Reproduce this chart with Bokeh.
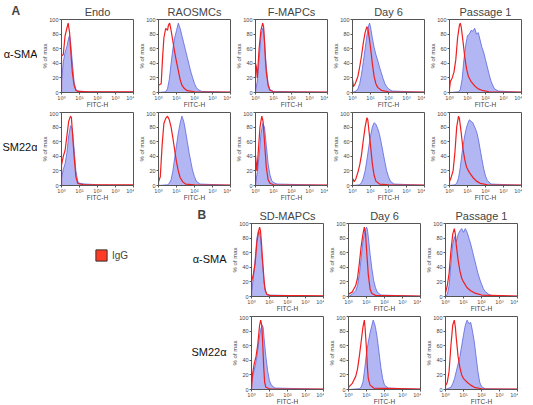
from bokeh.plotting import figure
from bokeh.layouts import row, column
from bokeh.models import Range1d, FixedTicker, Legend, LegendItem
from bokeh.core.properties import value
from bokeh.embed import file_html
from bokeh.resources import INLINE

# ---------------- data (log10 of FITC-H intensity, % of max) ----------------
decades = [0, 1, 2, 3, 4]
decade_labels = ["10\u2070", "10\u00b9", "10\u00b2", "10\u00b3", "10\u2074"]
pct_ticks = [0, 20, 40, 60, 80, 100]

cols_A = ["Endo", "RAOSMCs", "F-MAPCs", "Day 6", "Passage 1"]
cols_B = ["SD-MAPCs", "Day 6", "Passage 1"]
markers = ["\u03b1-SMA", "SM22\u03b1"]
panel_letters = ["A", "B"]
control_name = "IgG"

# Panel A, alpha-SMA row
A_endo_sma_igg = [(0, 0), (0, 50), (0.1, 52), (0.2, 78), (0.3, 88), (0.37, 95), (0.45, 82), (0.5, 62), (0.6, 28), (0.7, 10), (0.8, 3), (0.9, 1.5), (1.5, 1), (4, 1)]
A_endo_sma_ab = [(0, 15), (0.1, 42), (0.2, 55), (0.3, 63), (0.4, 75), (0.45, 78), (0.5, 70), (0.6, 42), (0.7, 14), (0.8, 4), (0.9, 2), (1.5, 1), (4, 0.5)]
A_rao_sma_igg = [(0, 0), (0, 10), (0.15, 12), (0.22, 45), (0.3, 75), (0.4, 88), (0.5, 85), (0.55, 92), (0.62, 95), (0.7, 85), (0.8, 70), (0.9, 55), (1.0, 42), (1.1, 30), (1.2, 18), (1.3, 10), (1.45, 5), (1.6, 2.5), (2, 1), (4, 0.5)]
A_rao_sma_ab = [(0, 0), (0.4, 1), (0.5, 5), (0.6, 18), (0.7, 40), (0.8, 60), (0.9, 75), (1.0, 85), (1.1, 95), (1.2, 88), (1.3, 78), (1.4, 68), (1.5, 58), (1.6, 48), (1.7, 38), (1.8, 28), (1.9, 20), (2.0, 12), (2.1, 7), (2.2, 4), (2.4, 1.5), (4, 0.3)]
A_fmapc_sma_igg = [(0, 0), (0, 40), (0.05, 35), (0.1, 20), (0.15, 40), (0.2, 60), (0.3, 85), (0.4, 95), (0.45, 90), (0.5, 70), (0.55, 45), (0.6, 28), (0.7, 10), (0.8, 3), (1.0, 1), (4, 0.5)]
A_fmapc_sma_ab = [(0, 3), (0.1, 15), (0.2, 45), (0.3, 78), (0.4, 88), (0.45, 85), (0.5, 70), (0.6, 35), (0.7, 12), (0.8, 4), (1.0, 1.5), (4, 0.3)]
A_day6_sma_igg = [(0, 0), (0, 18), (0.05, 8), (0.15, 12), (0.3, 22), (0.4, 35), (0.5, 50), (0.6, 68), (0.7, 82), (0.8, 90), (0.85, 88), (0.9, 80), (1.0, 62), (1.1, 40), (1.2, 22), (1.3, 12), (1.4, 7), (1.6, 3), (2, 1), (4, 0.5)]
A_day6_sma_ab = [(0, 0), (0.2, 2), (0.3, 5), (0.4, 12), (0.5, 25), (0.6, 42), (0.7, 60), (0.8, 78), (0.9, 92), (0.95, 95), (1.0, 90), (1.1, 75), (1.2, 62), (1.3, 52), (1.4, 44), (1.5, 35), (1.6, 27), (1.7, 19), (1.8, 12), (1.9, 8), (2.0, 5), (2.2, 2), (4, 0.3)]
A_p1_sma_igg = [(0, 0), (0, 5), (0.05, 15), (0.15, 20), (0.25, 28), (0.35, 45), (0.45, 75), (0.55, 92), (0.6, 95), (0.65, 90), (0.75, 70), (0.85, 48), (0.95, 32), (1.05, 22), (1.2, 15), (1.4, 9), (1.6, 5), (1.8, 3), (2.2, 1), (4, 0.5)]
A_p1_sma_ab = [(0, 0), (0.5, 1), (0.6, 4), (0.7, 18), (0.8, 45), (0.9, 65), (1.0, 78), (1.1, 80), (1.2, 85), (1.3, 84), (1.4, 88), (1.5, 80), (1.6, 82), (1.7, 72), (1.8, 62), (1.9, 55), (2.0, 45), (2.1, 35), (2.2, 25), (2.3, 16), (2.4, 10), (2.5, 5), (2.7, 2), (4, 0.3)]

# Panel A, SM22alpha row
A_endo_sm22_igg = [(0, 0), (0, 28), (0.1, 40), (0.2, 48), (0.3, 68), (0.4, 88), (0.5, 95), (0.55, 93), (0.6, 75), (0.7, 40), (0.8, 12), (0.9, 3), (1.2, 1), (4, 1)]
A_endo_sm22_ab = [(0, 10), (0.1, 22), (0.2, 30), (0.3, 45), (0.4, 68), (0.5, 82), (0.6, 78), (0.7, 50), (0.8, 20), (0.9, 6), (1.0, 3), (1.3, 2), (1.7, 1.5), (2.2, 0.5), (4, 0.3)]
A_rao_sm22_igg = [(0, 0), (0, 5), (0.1, 12), (0.2, 55), (0.3, 85), (0.4, 92), (0.5, 95), (0.6, 90), (0.7, 80), (0.8, 65), (0.9, 48), (1.0, 32), (1.1, 20), (1.2, 11), (1.35, 5), (1.5, 2), (2, 1), (4, 0.5)]
A_rao_sm22_ab = [(0, 0), (0.5, 1), (0.6, 3), (0.7, 8), (0.8, 20), (0.9, 38), (1.0, 55), (1.1, 72), (1.2, 85), (1.3, 95), (1.4, 88), (1.5, 75), (1.6, 60), (1.7, 45), (1.8, 32), (1.9, 20), (2.0, 12), (2.1, 6), (2.3, 2), (4, 0.3)]
A_fmapc_sm22_igg = [(0, 0), (0, 42), (0.08, 20), (0.15, 45), (0.25, 80), (0.35, 95), (0.42, 88), (0.5, 60), (0.6, 25), (0.7, 8), (0.8, 3), (1.0, 1), (4, 0.5)]
A_fmapc_sm22_ab = [(0, 3), (0.1, 18), (0.2, 40), (0.3, 70), (0.4, 85), (0.5, 80), (0.6, 55), (0.7, 30), (0.8, 15), (0.9, 7), (1.0, 4), (1.2, 2), (4, 0.3)]
A_day6_sm22_igg = [(0, 0), (0, 10), (0.1, 5), (0.2, 10), (0.3, 18), (0.4, 28), (0.5, 42), (0.6, 62), (0.7, 80), (0.8, 93), (0.85, 90), (0.9, 78), (1.0, 55), (1.1, 30), (1.2, 14), (1.3, 6), (1.5, 2), (2, 1), (4, 0.5)]
A_day6_sm22_ab = [(0, 0), (0.4, 1), (0.5, 4), (0.6, 10), (0.7, 20), (0.8, 35), (0.9, 52), (1.0, 68), (1.1, 80), (1.2, 86), (1.3, 84), (1.4, 78), (1.5, 70), (1.6, 58), (1.7, 45), (1.8, 32), (1.9, 20), (2.0, 12), (2.1, 6), (2.3, 2), (4, 0.3)]
A_p1_sm22_igg = [(0, 0), (0, 5), (0.1, 12), (0.2, 20), (0.3, 45), (0.4, 80), (0.5, 95), (0.55, 92), (0.65, 72), (0.75, 50), (0.85, 35), (0.95, 25), (1.1, 18), (1.3, 11), (1.5, 6), (1.7, 3), (2.1, 1), (4, 0.5)]
A_p1_sm22_ab = [(0, 0), (0.3, 1), (0.4, 3), (0.5, 10), (0.6, 25), (0.7, 45), (0.8, 62), (0.9, 75), (1.0, 84), (1.1, 90), (1.2, 88), (1.3, 86), (1.4, 80), (1.5, 74), (1.6, 64), (1.7, 50), (1.8, 36), (1.9, 23), (2.0, 13), (2.1, 7), (2.3, 2), (4, 0.3)]

# Panel B, alpha-SMA row
B_sd_sma_igg = [(0, 0), (0, 20), (0.1, 30), (0.2, 45), (0.3, 75), (0.4, 90), (0.45, 95), (0.5, 90), (0.55, 75), (0.6, 55), (0.7, 22), (0.75, 10), (0.85, 3), (1.0, 1.5), (4, 0.8)]
B_sd_sma_ab = [(0, 5), (0.1, 25), (0.2, 50), (0.3, 80), (0.38, 90), (0.45, 88), (0.5, 80), (0.6, 50), (0.7, 18), (0.8, 5), (0.9, 2), (4, 0.3)]
B_day6_sma_igg = [(0, 0), (0, 3), (0.2, 6), (0.4, 15), (0.5, 25), (0.6, 45), (0.7, 68), (0.8, 85), (0.88, 95), (0.95, 85), (1.0, 65), (1.1, 30), (1.2, 10), (1.3, 4), (1.5, 1.5), (4, 0.5)]
B_day6_sma_ab = [(0, 0), (0.2, 3), (0.4, 8), (0.5, 15), (0.6, 30), (0.7, 52), (0.8, 75), (0.9, 88), (1.0, 95), (1.05, 92), (1.1, 82), (1.2, 58), (1.3, 38), (1.4, 22), (1.5, 12), (1.6, 6), (1.8, 2), (4, 0.3)]
B_p1_sma_igg = [(0, 0), (0, 5), (0.1, 15), (0.2, 32), (0.3, 62), (0.4, 85), (0.49, 93), (0.55, 85), (0.6, 70), (0.7, 50), (0.8, 35), (0.9, 25), (1.0, 20), (1.2, 12), (1.4, 8), (1.6, 5), (2.0, 2), (4, 0.5)]
B_p1_sma_ab = [(0, 0), (0.1, 3), (0.2, 15), (0.3, 45), (0.4, 72), (0.5, 82), (0.6, 75), (0.7, 85), (0.8, 90), (0.9, 93), (1.0, 88), (1.1, 93), (1.2, 88), (1.3, 80), (1.4, 72), (1.5, 62), (1.6, 52), (1.7, 42), (1.8, 32), (1.9, 24), (2.0, 17), (2.1, 11), (2.2, 7), (2.4, 3), (2.6, 1), (4, 0.3)]

# Panel B, SM22alpha row
B_sd_sm22_igg = [(0, 0), (0.05, 20), (0.15, 35), (0.25, 45), (0.35, 62), (0.45, 88), (0.51, 95), (0.57, 88), (0.62, 65), (0.68, 30), (0.73, 10), (0.8, 3), (1.0, 1), (4, 0.5)]
B_sd_sm22_ab = [(0, 8), (0.1, 22), (0.2, 32), (0.3, 45), (0.4, 65), (0.5, 82), (0.6, 88), (0.65, 85), (0.7, 70), (0.8, 45), (0.9, 25), (1.0, 12), (1.1, 6), (1.3, 2), (4, 0.3)]
B_day6_sm22_igg = [(0, 0), (0, 3), (0.2, 8), (0.4, 18), (0.5, 28), (0.6, 45), (0.7, 65), (0.8, 85), (0.88, 95), (0.92, 85), (1.0, 55), (1.05, 30), (1.1, 15), (1.2, 6), (1.4, 2), (4, 0.5)]
B_day6_sm22_ab = [(0, 0), (0.6, 1), (0.7, 3), (0.8, 10), (0.9, 28), (1.0, 50), (1.1, 65), (1.2, 78), (1.3, 88), (1.37, 95), (1.45, 90), (1.5, 85), (1.6, 70), (1.7, 50), (1.8, 30), (1.9, 15), (2.0, 6), (2.2, 2), (4, 0.3)]
B_p1_sm22_igg = [(0, 0), (0, 5), (0.1, 10), (0.2, 25), (0.3, 60), (0.4, 88), (0.49, 95), (0.55, 85), (0.6, 70), (0.7, 45), (0.8, 30), (0.9, 20), (1.0, 15), (1.2, 10), (1.4, 6), (1.6, 3), (2.0, 1), (4, 0.5)]
B_p1_sm22_ab = [(0, 0), (0.3, 3), (0.4, 8), (0.5, 15), (0.6, 25), (0.7, 35), (0.8, 45), (0.9, 60), (1.0, 75), (1.1, 88), (1.2, 95), (1.3, 90), (1.4, 92), (1.5, 80), (1.6, 65), (1.7, 45), (1.8, 25), (1.9, 10), (2.0, 4), (2.2, 1), (4, 0.3)]

# ---------------- styling ----------------
FONT = "Liberation Sans"
TICK_FONT = "DejaVu Sans"
BLUE_FILL = "#b2b6f3"
BLUE_LINE = "#5a66e0"
RED = "#f01e1e"
RED_FILL = "#ff3b24"
AX = "#555555"

FW = 72      # frame width
FH = 73      # frame height
L = 24       # left border (y axis)
R = 1
BOT = 19     # bottom border (x axis)


def panel(title, igg, ab, top, bot=BOT):
    p = figure(frame_width=FW, frame_height=FH,
               x_range=Range1d(0, 4), y_range=Range1d(0, 100),
               output_backend="svg", toolbar_location=None,
               min_border_left=L, min_border_right=R,
               min_border_top=top, min_border_bottom=bot,
               title=title)
    ax_x, ax_y = zip(*ab)
    p.varea(x=list(ax_x), y1=0, y2=list(ax_y), fill_color=BLUE_FILL, fill_alpha=1)
    p.line(list(ax_x), list(ax_y), line_color=BLUE_LINE, line_width=0.8)
    ix, iy = zip(*igg)
    p.line(list(ix), list(iy), line_color=RED, line_width=1.2)

    p.xaxis.ticker = FixedTicker(ticks=decades)
    p.xaxis.major_label_overrides = dict(zip(decades, decade_labels))
    p.yaxis.ticker = FixedTicker(ticks=pct_ticks)
    p.xaxis.axis_label = "FITC-H"
    p.yaxis.axis_label = "% of max"
    for ax in (p.xaxis[0], p.yaxis[0]):
        ax.major_label_text_font = FONT
        ax.major_label_text_font_size = "5.5px"
        ax.axis_label_text_font = FONT
        ax.axis_label_text_font_style = "normal"
        ax.axis_label_text_font_size = "6.5px"
        ax.major_tick_in = 0
        ax.major_tick_out = 2
        ax.minor_tick_line_color = None
        ax.axis_line_color = AX
        ax.major_tick_line_color = AX
    xa, ya = p.xaxis[0], p.yaxis[0]
    xa.major_label_text_font = TICK_FONT
    xa.major_label_text_font_size = "5px"
    xa.major_label_standoff = 0
    xa.axis_label_standoff = -3
    ya.major_label_standoff = 1
    ya.axis_label_standoff = -2
    ya.axis_label_text_font_size = "6px"
    p.xgrid.visible = False
    p.ygrid.visible = False
    p.outline_line_color = AX
    p.outline_line_alpha = 1
    if title:
        p.title.text_font = FONT
        p.title.text_font_size = "11px"
        p.title.text_font_style = "normal"
        p.title.align = "center"
        p.title.standoff = 4
    return p


def label_fig(w, top, letter=None, letter_x=0):
    # frame is aligned with the panel frames of the same row; y counts pixels down from frame top
    f = figure(frame_width=w, frame_height=FH, x_range=Range1d(0, w), y_range=Range1d(FH, 0),
               output_backend="svg", toolbar_location=None,
               min_border_left=0, min_border_right=0, min_border_top=top, min_border_bottom=BOT,
               x_axis_location=None, y_axis_location=None, title=letter)
    f.xgrid.visible = False
    f.ygrid.visible = False
    f.outline_line_color = None
    if letter:
        f.title.text_font = FONT
        f.title.text_font_size = "12px"
        f.title.text_font_style = "bold"
        f.title.align = "left"
        f.title.offset = letter_x
        f.title.standoff = 3
    return f


def put_text(f, x, y, t, size, align="left"):
    f.text(x=[x], y=[y], text=[t], text_font=value(FONT), text_font_size=size,
           text_align=align, text_baseline="middle", text_color="#111111")


layout_rows = []

# ---------------- panel A ----------------
A_rows = [
    [A_endo_sma_igg, A_endo_sma_ab, A_rao_sma_igg, A_rao_sma_ab, A_fmapc_sma_igg, A_fmapc_sma_ab,
     A_day6_sma_igg, A_day6_sma_ab, A_p1_sma_igg, A_p1_sma_ab],
    [A_endo_sm22_igg, A_endo_sm22_ab, A_rao_sm22_igg, A_rao_sm22_ab, A_fmapc_sm22_igg, A_fmapc_sm22_ab,
     A_day6_sm22_igg, A_day6_sm22_ab, A_p1_sm22_igg, A_p1_sm22_ab],
]
A_tops = [19, 1]
for r, series in enumerate(A_rows):
    top = A_tops[r]
    lf = label_fig(37, top, panel_letters[0] if r == 0 else None, 11)
    put_text(lf, 37, FH / 2 - 2, markers[r], "11px", align="right")
    items = [lf]
    for c in range(5):
        items.append(panel(cols_A[c] if r == 0 else None, series[2 * c], series[2 * c + 1], top))
    layout_rows.append(row(*items))

# ---------------- panel B ----------------
B_rows = [
    [B_sd_sma_igg, B_sd_sma_ab, B_day6_sma_igg, B_day6_sma_ab, B_p1_sma_igg, B_p1_sma_ab],
    [B_sd_sm22_igg, B_sd_sm22_ab, B_day6_sm22_igg, B_day6_sm22_ab, B_p1_sm22_igg, B_p1_sm22_ab],
]
B_tops = [16, 1]
nan = float("nan")
for r, series in enumerate(B_rows):
    top = B_tops[r]
    lf = label_fig(227, top, panel_letters[1] if r == 0 else None, 197)
    if r == 0:
        key = lf.quad(left=[nan], right=[nan], top=[nan], bottom=[nan],
                      fill_color=RED_FILL, line_color="#333333")
        leg = Legend(items=[LegendItem(label=control_name, renderers=[key])],
                     location=(94, 34), padding=0, margin=0, spacing=0,
                     glyph_width=14, glyph_height=14, label_standoff=4,
                     label_text_font=FONT, label_text_font_size="10px",
                     border_line_alpha=0, background_fill_alpha=0)
        lf.add_layout(leg, "center")
    put_text(lf, 226, FH / 2 - 1, markers[r], "11px", align="right")
    items = [lf]
    for c in range(3):
        items.append(panel(cols_B[c] if r == 0 else None, series[2 * c], series[2 * c + 1], top))
    layout_rows.append(row(*items))

page = column(*layout_rows)
open("out.html", "w").write(file_html(page, INLINE))
